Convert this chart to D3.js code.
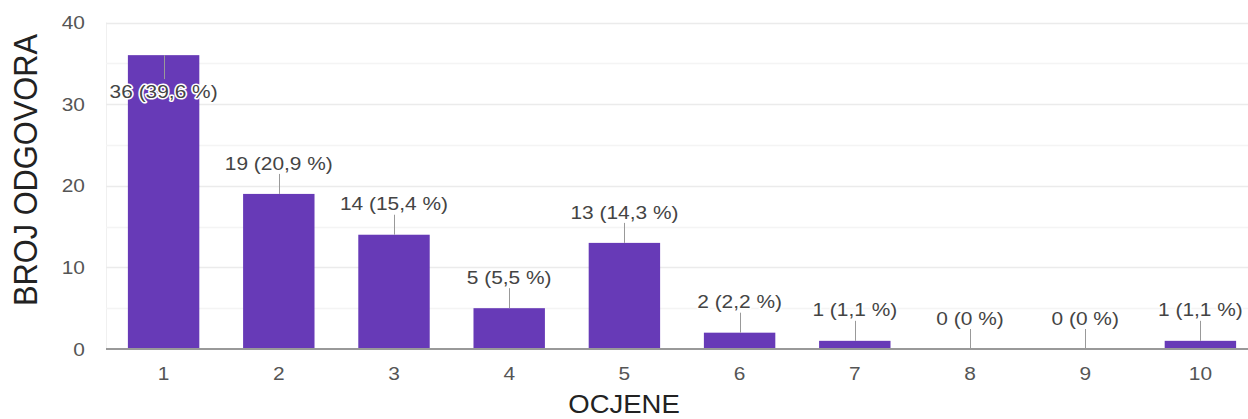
<!DOCTYPE html>
<html>
<head>
<meta charset="utf-8">
<script src="https://cdn.jsdelivr.net/npm/d3@7"></script>
<style>
  html, body { margin: 0; padding: 0; background: #fff; }
  svg { display: block; font-family: "Liberation Sans", Arial, sans-serif; }
</style>
</head>
<body>
<svg id="chart" width="1248" height="419"></svg>
<script>
const categories = ["1", "2", "3", "4", "5", "6", "7", "8", "9", "10"];
const counts = [36, 19, 14, 5, 13, 2, 1, 0, 0, 1];
const percentLabels = ["39,6 %", "20,9 %", "15,4 %", "5,5 %", "14,3 %", "2,2 %", "1,1 %", "0 %", "0 %", "1,1 %"];
const yTicks = [0, 10, 20, 30, 40];
const yMinorTicks = [5, 15, 25, 35];
const xTitle = "OCJENE";
const yTitle = "BROJ ODGOVORA";

const W = 1248, H = 419;
const plotLeft = 106, plotRight = 1248, baseY = 349, topY = 22.5;
const SX = 1.1; // horizontal stretch of the reference's text

const svg = d3.select("#chart");

const x = d3.scaleBand()
  .domain(categories)
  .range([plotLeft, plotLeft + 1152])
  .paddingInner(0.38)
  .paddingOuter(0.19);

const y = d3.scaleLinear().domain([0, 40]).range([baseY, topY]);

// plot-area left edge
svg.append("line")
  .attr("x1", plotLeft + 0.5).attr("x2", plotLeft + 0.5)
  .attr("y1", topY).attr("y2", baseY)
  .attr("stroke", "#f0f0f0").attr("stroke-width", 1);

// minor grid
svg.append("g").selectAll("line").data(yMinorTicks).join("line")
  .attr("x1", plotLeft).attr("x2", plotRight)
  .attr("y1", d => Math.round(y(d)) + 0.5).attr("y2", d => Math.round(y(d)) + 0.5)
  .attr("stroke", "#f4f4f4").attr("stroke-width", 1.5);

// major grid
svg.append("g").selectAll("line").data(yTicks.filter(d => d > 0)).join("line")
  .attr("x1", plotLeft).attr("x2", plotRight)
  .attr("y1", d => Math.round(y(d)) + 0.5).attr("y2", d => Math.round(y(d)) + 0.5)
  .attr("stroke", "#ebebeb").attr("stroke-width", 1.5);

// y axis tick labels
const yAxis = d3.axisLeft(y).tickValues(yTicks).tickSize(0).tickPadding(0);
const gy = svg.append("g").attr("transform", `translate(${plotLeft - 21},0)`).call(yAxis);
gy.select(".domain").remove();
gy.selectAll(".tick").each(function () {
  const t = d3.select(this).select("text");
  t.attr("transform", `scale(${SX},1)`);
});
gy.selectAll("text")
  .attr("font-size", 19).attr("fill", "#555")
  .attr("font-family", "'Liberation Sans', Arial, sans-serif");

// bars
const data = categories.map((c, i) => ({ c, v: counts[i], p: percentLabels[i] }));
svg.append("g").selectAll("rect").data(data).join("rect")
  .attr("x", d => x(d.c))
  .attr("width", x.bandwidth())
  .attr("y", d => y(d.v))
  .attr("height", d => baseY - y(d.v))
  .attr("fill", "#673ab7");

// baseline
svg.append("line")
  .attr("x1", plotLeft).attr("x2", plotRight)
  .attr("y1", baseY).attr("y2", baseY)
  .attr("stroke", "#999").attr("stroke-width", 2);

// x axis tick labels
const xAxis = d3.axisBottom(x).tickSize(0).tickPadding(0);
const gx = svg.append("g").attr("transform", `translate(0,${baseY + 18})`).call(xAxis);
gx.select(".domain").remove();
gx.selectAll("text")
  .attr("transform", `scale(${SX},1)`)
  .attr("font-size", 19).attr("fill", "#555")
  .attr("font-family", "'Liberation Sans', Arial, sans-serif");

// annotations (leader line + label)
const ann = svg.append("g").selectAll("g").data(data).join("g");
ann.each(function (d) {
  const g = d3.select(this);
  const cx = x(d.c) + x.bandwidth() / 2;
  const top = y(d.v);
  const above = top - 31 > topY + 10;
  const labelY = above ? top - 31 : top + 36;
  const lineEnd = above ? top - 20 : top + 24;
  g.append("line")
    .attr("x1", Math.round(cx) + 0.5).attr("x2", Math.round(cx) + 0.5)
    .attr("y1", top).attr("y2", lineEnd)
    .attr("stroke", "#999").attr("stroke-width", 1);
  g.append("text")
    .attr("transform", `translate(${cx},${labelY}) scale(${SX},1)`)
    .attr("dy", "0.35em")
    .attr("text-anchor", "middle")
    .attr("font-size", 19)
    .attr("fill", "#444")
    .attr("stroke", "#fff").attr("stroke-width", 3)
    .attr("stroke-linejoin", "round")
    .attr("paint-order", "stroke")
    .text(`${d.v} (${d.p})`);
});

// axis titles
svg.append("text")
  .attr("transform", `translate(624,413) scale(${SX},1)`)
  .attr("text-anchor", "middle")
  .attr("font-size", 25).attr("fill", "#222")
  .text(xTitle);

svg.append("text")
  .attr("transform", `translate(37,${(35 + 305) / 2}) rotate(-90) scale(1,${SX})`)
  .attr("text-anchor", "middle")
  .attr("font-size", 30.8).attr("fill", "#222")
  .text(yTitle);
</script>
</body>
</html>
